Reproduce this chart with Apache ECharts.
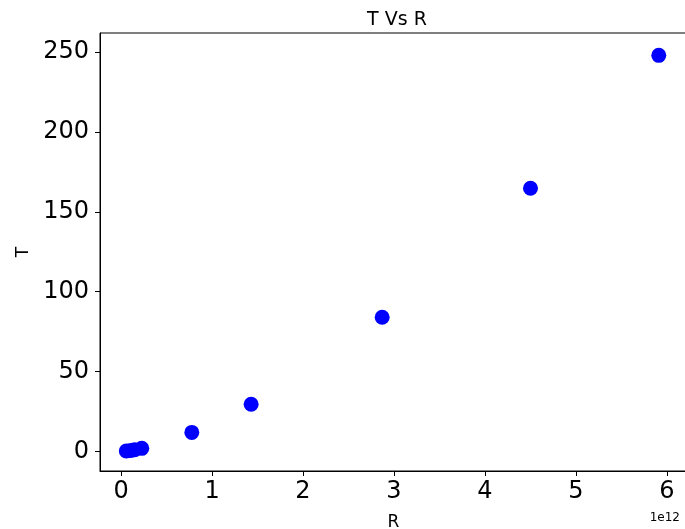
<!DOCTYPE html>
<html>
<head>
<meta charset="utf-8">
<script src="https://cdn.jsdelivr.net/npm/echarts@6/dist/echarts.min.js"></script>
<style>
  html, body { margin: 0; padding: 0; background: #fff; }
  #chart { width: 685px; height: 529px; }
</style>
</head>
<body>
<div id="chart"></div>
<script>
// semi-major axis R (units of 1e12) and period T
const rValues = [0.058, 0.108, 0.150, 0.228, 0.778, 1.43, 2.87, 4.50, 5.91]
const tValues = [0.24, 0.615, 1.0, 1.88, 11.86, 29.46, 84.0, 164.8, 248.0]
const xTicks = [0, 1, 2, 3, 4, 5, 6]
const yTicks = [0, 50, 100, 150, 200, 250]

const chart = echarts.init(document.getElementById('chart'))
const font = 'DejaVu Sans'

chart.setOption({
  animation: false,
  title: [
    { text: 'T Vs R', left: 392, top: 6, textAlign: 'center',
      textStyle: { fontFamily: font, fontSize: 19, fontWeight: 'normal', color: '#000' } },
    { text: '1e12', right: 0, top: 507,
      textStyle: { fontFamily: font, fontSize: 12, fontWeight: 'normal', color: '#000' } },
  ],
  grid: {
    left: 100, right: -2, top: 33, bottom: 58,
    outerBoundsMode: 'none', containLabel: false,
    show: true, borderColor: '#000', borderWidth: 1,
  },
  xAxis: {
    type: 'value',
    min: -0.231,
    max: 6.22,
    name: 'R',
    nameLocation: 'middle',
    nameGap: 43,
    nameTextStyle: { fontFamily: font, fontSize: 17, color: '#000' },
    axisLine: { show: true, onZero: false, lineStyle: { color: '#000' } },
    axisTick: { show: true, customValues: xTicks, length: 5, lineStyle: { color: '#000' } },
    axisLabel: { customValues: xTicks, fontFamily: font, fontSize: 24, color: '#000', margin: 9 },
    splitLine: { show: false },
  },
  yAxis: {
    type: 'value',
    min: -12.3,
    max: 262,
    name: 'T',
    nameLocation: 'middle',
    nameGap: 68,
    nameTextStyle: { fontFamily: font, fontSize: 17, color: '#000' },
    axisLine: { show: true, onZero: false, lineStyle: { color: '#000' } },
    axisTick: { show: true, customValues: yTicks, length: 5, lineStyle: { color: '#000' } },
    axisLabel: { customValues: yTicks, fontFamily: font, fontSize: 24, color: '#000', margin: 11 },
    splitLine: { show: false },
  },
  series: [{
    type: 'scatter',
    data: rValues.map((r, i) => [r, tValues[i]]),
    symbolSize: 15,
    itemStyle: { color: '#0000ff', opacity: 1 },
  }],
})
</script>
</body>
</html>
